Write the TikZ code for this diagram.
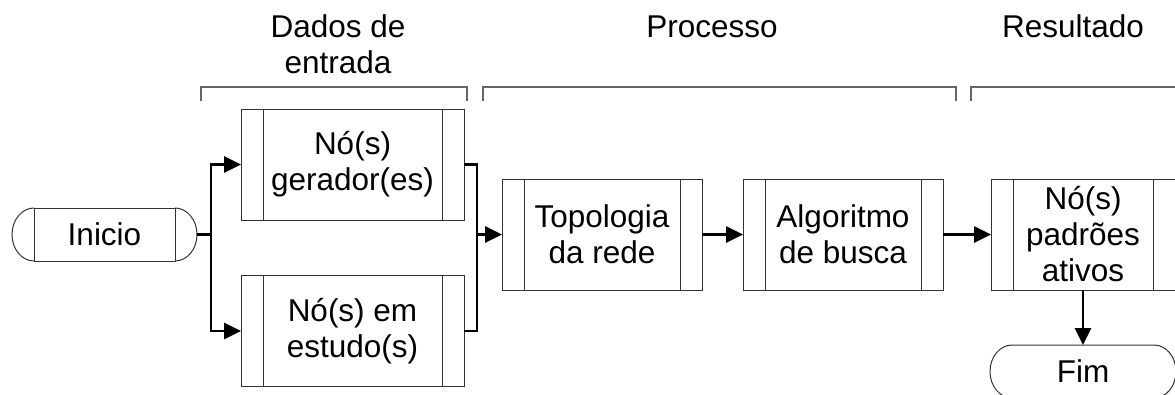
\documentclass[tikz,border=0pt]{standalone}
\usepackage{fontspec}
\setmainfont{Liberation Sans}
\usetikzlibrary{arrows.meta}
\definecolor{boxline}{gray}{0.2}
\definecolor{bracket}{gray}{0.4}
\begin{document}
\begin{tikzpicture}[x=1pt,y=-1pt,
  every node/.style={font=\fontsize{31.5}{36}\selectfont, align=center, inner sep=0pt, outer sep=0pt},
  box/.style={draw=boxline, line width=1pt, minimum height=111pt,
    path picture={
      \draw[boxline, line width=1pt]
        ([xshift=22pt]path picture bounding box.north west) -- ([xshift=22pt]path picture bounding box.south west)
        ([xshift=-22pt]path picture bounding box.north east) -- ([xshift=-22pt]path picture bounding box.south east);}},
  term/.style={minimum width=141pt, minimum height=53pt},
  termline/.style={draw=boxline, line width=1pt},
  link/.style={line width=2.8pt},
  flow/.style={line width=2.8pt, -{Triangle[length=17pt,width=16pt]}},
  brace/.style={draw=bracket, line width=1.3pt}
]
\useasboundingbox (0,0) rectangle (1175,394);
\clip (0,0) rectangle (1175,394);

% phase headings
\node (hin)  at (338,44) {Dados de\\entrada};
\node[anchor=base] (hpro) at (712,37) {Processo};
\node[anchor=base] (hres) at (1073,37) {Resultado};

% phase brackets
\draw[brace] (201,101) -- (201,87) -- (467,87) -- (467,101);
\draw[brace] (483,101) -- (483,87) -- (956,87) -- (956,101);
\draw[brace] (971,101) -- (971,87) -- (1180,87);

% start terminator (inner rectangle drawn, rounded ends added)
\node[term, draw=boxline, line width=1pt] (ini) at (104.5,234.5) {Inicio};
\draw[termline] (ini.north east) arc[start angle=90, end angle=-90, x radius=22pt, y radius=26.5pt]
                (ini.south west) arc[start angle=270, end angle=90, x radius=22pt, y radius=26.5pt];

% input data
\node[box, minimum width=223pt] (ger) at (352.5,164.5) {Nó(s)\\gerador(es)};
\node[box, minimum width=223pt] (est) at (352.5,331) {Nó(s) em\\estudo(s)};

% process
\node[box, minimum width=200pt] (topo) at (602,234.5) {Topologia\\da rede};
\node[box, minimum width=200pt] (alg) at (843,234.5) {Algoritmo\\de busca};

% result
\node[box, minimum width=184pt] (res) at (1083,234.5) {Nó(s)\\padrões\\ativos};

% end terminator
\node[term, minimum width=142pt] (fim) at (1083,371.5) {Fim};
\draw[termline] (fim.north west) -- (fim.north east)
                arc[start angle=90, end angle=-90, x radius=22pt, y radius=26.5pt]
                -- (fim.south west)
                arc[start angle=270, end angle=90, x radius=22pt, y radius=26.5pt];

% connectors
\coordinate (split) at (211,234.5);
\coordinate (join) at (477,234.5);
\draw[link] ([xshift=22pt]ini.east) -- (split);
\draw[flow] (split) |- (ger.west);
\draw[flow] (split) |- (est.west);
\draw[link] (ger.east) -| (join);
\draw[link] (est.east) -| (join);
\draw[flow] (join) -- (topo.west);
\draw[flow] (topo.east) -- (alg.west);
\draw[flow] (alg.east) -- (res.west);
\draw[flow] (res.south) -- (fim.north);
\end{tikzpicture}
\end{document}
